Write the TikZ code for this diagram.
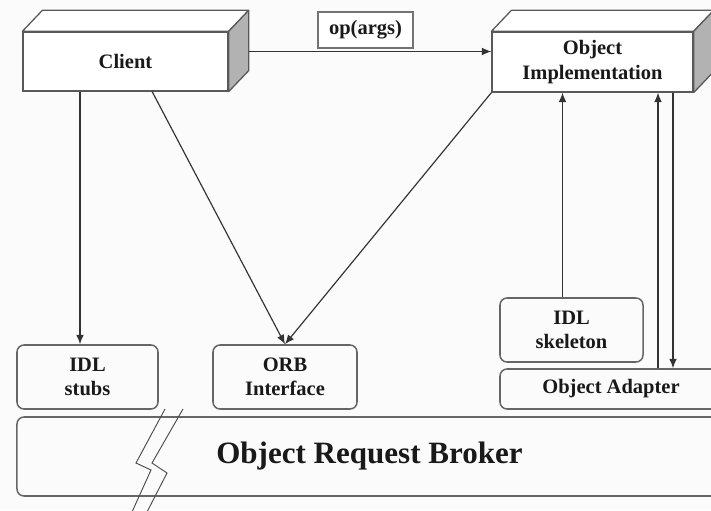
\documentclass[tikz,border=0pt]{standalone}
\usepackage{fontspec}
\setmainfont{Liberation Serif}
\usetikzlibrary{arrows.meta}
\tikzset{
  boxtext/.style = {font=\bfseries\fontsize{17.5}{21}\selectfont, align=center, text=black!90},
  block/.style = {boxtext, draw=black!60, line width=1.3pt, rounded corners=6pt, inner sep=0pt},
  cubefront/.style = {boxtext, draw=black!65, line width=1.1pt, fill=white, inner sep=0pt},
  cubetop/.style = {draw=black!65, line width=1.1pt, fill=white, line join=round},
  cubeside/.style = {draw=black!65, line width=1.1pt, fill=black!30, line join=round},
  tagbox/.style = {boxtext, draw=black!55, line width=1.2pt, fill=white, inner sep=0pt},
  link/.style = {-{Latex[length=8pt,width=6.5pt]}, line width=1pt, draw=black!80},
  brk/.style = {line width=0.8pt, draw=black!70}
}

\begin{document}
\begin{tikzpicture}[x=0.03cm,y=-0.03cm]
  \useasboundingbox (0,0) rectangle (711,510);
  \fill[black!1.5] (0,0) rectangle (711,510);
  \clip (0,0) rectangle (711,510);
  % 3d boxes
  \node[cubefront, minimum width=6.15cm, minimum height=1.77cm] (client) at (125.5,61.5) {Client};
  \node[cubefront, minimum width=6.03cm, minimum height=1.8cm] (impl) at (592.5,62) {Object\\Implementation};
  \foreach \b in {client,impl} {
    \filldraw[cubetop] (\b.north west) -- ++(20,-21) -- ([shift={(20,-21)}]\b.north east) -- (\b.north east) -- cycle;
    \filldraw[cubeside] (\b.north east) -- ++(20,-21) -- ([shift={(20,-21)}]\b.south east) -- (\b.south east) -- cycle;
  }
  \node[tagbox, minimum width=2.85cm, minimum height=1.08cm] (op) at (365.5,30) {op(args)};
  % rounded boxes
  \node[block, minimum width=4.23cm, minimum height=1.92cm] (stubs) at (87.5,377) {IDL\\stubs};
  \node[block, minimum width=4.32cm, minimum height=1.92cm] (orbif) at (285,377) {ORB\\Interface};
  \node[block, minimum width=4.29cm, minimum height=1.92cm] (skel) at (571.5,330) {IDL\\skeleton};
  \node[block, minimum width=6.66cm, minimum height=1.2cm] (adapter) at (611,389) {Object Adapter};
  \node[block, font=\bfseries\fontsize{26.5}{30}\selectfont, minimum width=21.15cm, minimum height=2.37cm] (orb) at (369.5,456.5) {Object Request Broker};
  % break mark
  \draw[brk] (165,409) -- (136,463) -- (151,470) -- (132,512);
  \draw[brk] (183,409) -- (152,463) -- (167,473) -- (147,512);
  % calls
  \coordinate (clientside) at ([shift={(20,-10)}]client.east);
  \draw[link] (clientside) -- (clientside -| impl.west);
  \coordinate (stubsin) at ([xshift=-0.225cm]stubs.north);
  \draw[link] (client.south -| stubsin) -- (stubsin);
  \draw[link] ([xshift=0.8cm]client.south) -- (orbif.north);
  \draw[link] (impl.south west) -- (orbif.north);
  \coordinate (skelout) at ([xshift=-0.27cm]skel.north);
  \draw[link] (skelout) -- (skelout |- impl.south);
  \coordinate (oaup) at ([xshift=1.965cm]impl.south);
  \draw[link] (oaup |- adapter.north) -- (oaup);
  \coordinate (oadown) at ([xshift=2.415cm]impl.south);
  \draw[link] (oadown) -- (oadown |- adapter.north);
\end{tikzpicture}
\end{document}
